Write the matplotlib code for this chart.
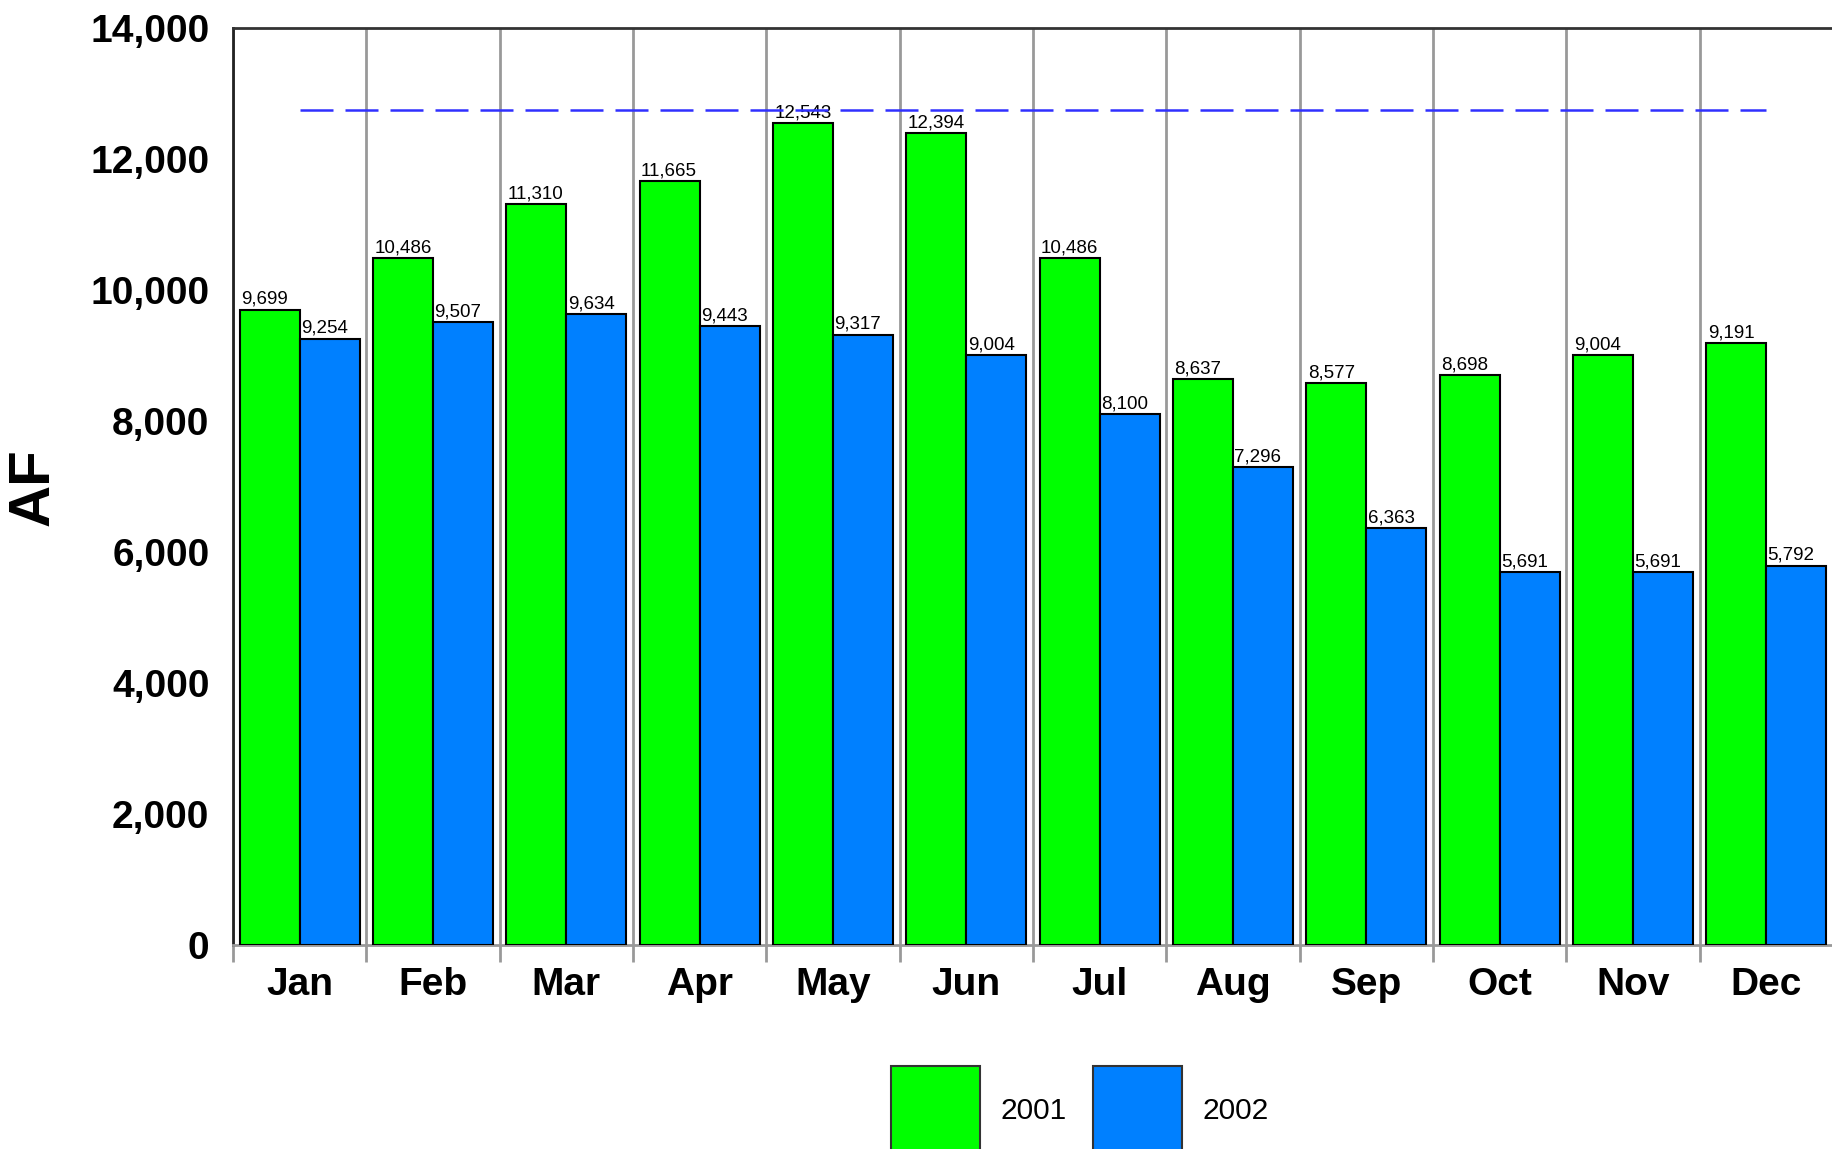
import numpy as np
import matplotlib
matplotlib.use("Agg")
import matplotlib.pyplot as plt
from matplotlib.ticker import FuncFormatter

plt.rcParams['font.family'] = ['Liberation Sans', 'DejaVu Sans']

months = ['Jan', 'Feb', 'Mar', 'Apr', 'May', 'Jun',
          'Jul', 'Aug', 'Sep', 'Oct', 'Nov', 'Dec']
af_2001 = [9699, 10486, 11310, 11665, 12543, 12394,
           10486, 8637, 8577, 8698, 9004, 9191]
af_2002 = [9254, 9507, 9634, 9443, 9317, 9004,
           8100, 7296, 6363, 5691, 5691, 5792]
target_level = 12750
series_names = ['2001', '2002']
colors = ['#00FF00', '#0080FF']

x = np.arange(len(months))
w = 0.45

fig = plt.figure(figsize=(18.33, 11.49), dpi=100)
ax = fig.add_axes([233 / 1833, 1 - 945 / 1149, 1600 / 1833, 917 / 1149])

b1 = ax.bar(x - w / 2, af_2001, w, color=colors[0], edgecolor='black',
            linewidth=1.5, label=series_names[0], zorder=3)
b2 = ax.bar(x + w / 2, af_2002, w, color=colors[1], edgecolor='black',
            linewidth=1.5, label=series_names[1], zorder=3)

# value labels, left aligned on each bar
for bars in (b1, b2):
    for r in bars:
        ax.text(r.get_x() + 0.01, r.get_height() + 90, f"{int(r.get_height()):,}",
                ha='left', va='baseline', fontsize=13.5, zorder=4)

# dashed reference line from Jan to Dec
ax.plot([x[0], x[-1]], [target_level, target_level], color='#3030FF',
        linewidth=1.8, dashes=(13.2, 4.8), zorder=5)

ax.set_xlim(-0.5, len(months) - 0.5)
ax.set_ylim(0, 14000)
ax.set_yticks(np.arange(0, 14001, 2000))
ax.yaxis.set_major_formatter(FuncFormatter(lambda v, p: f"{int(v):,}"))
ax.tick_params(axis='y', length=0, pad=17, labelsize=28)
for t in ax.get_yticklabels():
    t.set_fontweight('bold')

# boundaries as major ticks + grid, month names on minor ticks
ax.set_xticks(np.arange(-0.5, len(months), 1.0))
ax.set_xticklabels([])
ax.set_xticks(x, minor=True)
ax.set_xticklabels(months, minor=True, fontsize=28, fontweight='bold')
ax.tick_params(axis='x', which='major', length=12, width=2, color='#999999')
ax.tick_params(axis='x', which='minor', length=0, pad=16)
ax.grid(axis='x', which='major', color='#999999', linewidth=2, zorder=0)
ax.set_axisbelow(True)

ax.spines['left'].set_color('#222222')
ax.spines['left'].set_linewidth(2)
ax.spines['top'].set_color('#333333')
ax.spines['top'].set_linewidth(2)
ax.spines['bottom'].set_color('#999999')
ax.spines['bottom'].set_linewidth(2)
ax.spines['right'].set_visible(False)

fig.text(34 / 1833, 1 - 487 / 1149, 'AF', rotation=90, fontsize=42,
         fontweight='bold', ha='center', va='center')

leg = fig.legend(handles=[b1, b2], labels=series_names, loc='upper center',
                 bbox_to_anchor=(1080 / 1833, 1 - 1051 / 1149), ncol=2,
                 frameon=False, fontsize=21.5, borderpad=0, labelspacing=0,
                 handlelength=2.98, handleheight=4.28, handletextpad=0.7,
                 columnspacing=0.87)
for p in leg.get_patches():
    p.set_edgecolor('#333333')

fig.savefig('out.png', dpi=100)
